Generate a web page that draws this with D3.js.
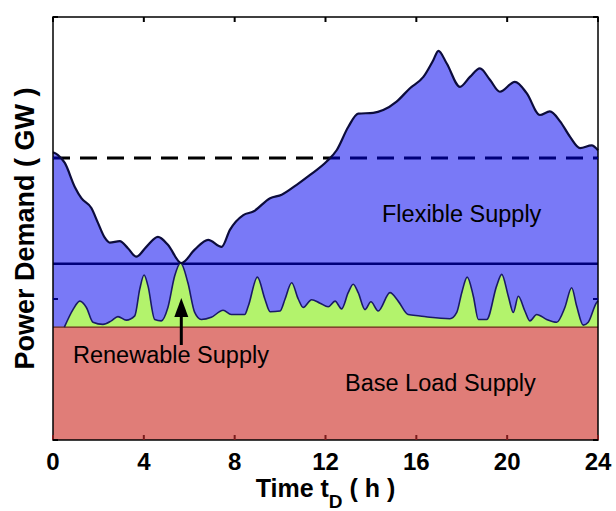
<!DOCTYPE html>
<meta charset="utf-8">
<html>
<head>
    <script src="https://d3js.org/d3.v7.min.js"></script>
    <style>
        body { margin: 0; background: white; }
        text { font-family: "Liberation Sans", Arial, sans-serif; }
    </style>
</head>
<body>
    <div id="chart"></div>
    <script>
        // demand curve (GW)
        var demandHours = [0, 0.22, 0.52, 0.96, 1.25, 1.69, 1.98, 2.28, 2.5, 2.94, 3.3, 3.67, 4.11, 4.62,
            5.06, 5.65, 6.24, 6.83, 7.43, 7.79, 8.38, 8.82, 9.56, 10.07, 10.73, 11.32, 12.05, 12.49,
            13.0, 13.44, 14.1, 14.54, 15.13, 15.72, 16.31, 16.75, 16.97, 17.34, 17.92, 18.36, 18.8,
            19.24, 19.68, 20.34, 20.86, 21.44, 21.88, 22.33, 22.77, 23.21, 23.72, 24];
        var demand = [40.8, 40.4, 39.3, 35.9, 34.3, 32.9, 30.8, 28.7, 28.0, 28.2, 27.2, 26.0, 27.4, 28.8,
            27.7, 25.1, 27.0, 28.4, 27.4, 29.8, 31.9, 32.4, 34.3, 34.8, 36.2, 37.6, 39.5, 41.1,
            44.4, 46.3, 46.4, 46.8, 48.0, 49.9, 51.5, 53.9, 55.2, 53.4, 50.1, 51.5, 52.7,
            51.1, 49.4, 50.8, 49.2, 46.1, 46.6, 45.2, 43.0, 41.4, 41.8, 41.1];

        // renewable supply on top of the base load (GW)
        var renewHours = [0.5, 0.88, 1.18, 1.47, 1.76, 2.2, 2.57, 2.86, 3.23, 3.6, 3.82, 4.01, 4.18, 4.48,
            4.77, 5.06, 5.36, 5.62, 5.94, 6.24, 6.53, 6.97, 7.49, 7.85, 8.44, 8.6, 9.0, 9.33, 9.56,
            10.0, 10.22, 10.51, 10.8, 11.02, 11.39, 11.76, 12.12, 12.42, 12.71, 13.0, 13.22, 13.44,
            13.74, 14.0, 14.32, 14.84, 15.2, 15.64, 16.16, 16.6, 17.48, 17.78, 18.0, 18.24, 18.51,
            18.73, 19.1, 19.54, 19.76, 20.05, 20.27, 20.49, 20.78, 21.0, 21.3, 21.74, 22.18, 22.54,
            22.84, 23.06, 23.35, 23.57, 23.94, 24];
        var renewable = [0, 2.5, 3.7, 2.8, 0.7, 0.4, 0.9, 1.5, 1.0, 1.6, 5.4, 7.4, 5.9, 1.1,
            0.9, 2.8, 7.3, 9.1, 6.3, 2.1, 1.1, 1.4, 2.4, 1.8, 1.8, 3.0, 7.1, 4.0, 2.2,
            2.3, 4.0, 6.3, 4.0, 2.8, 3.9, 3.4, 2.9, 3.7, 2.6, 4.9, 6.1, 4.9,
            2.5, 3.6, 2.3, 4.9, 3.7, 1.8, 1.6, 1.4, 1.2, 2.1, 4.9, 7.1, 4.4,
            1.1, 1.1, 5.9, 7.5, 4.4, 2.1, 4.4, 2.3, 0.9, 1.8, 1.1, 0.7, 2.8,
            5.6, 3.0, 0.3, 0.7, 3.5, 3.7];

        var baseLoad = 16;
        var flexibleLevel = 25;
        var peakLevel = 40;
        var xTicks = [0, 4, 8, 12, 16, 20, 24];
        var yTicks = [0, 20, 40, 60];

        var margin = { top: 17, right: 18, bottom: 71, left: 53 },
            width = 616 - margin.left - margin.right,
            height = 511 - margin.top - margin.bottom;

        var svg = d3.select("#chart").append("svg")
            .attr("width", 616)
            .attr("height", 511);
        var g = svg.append("g")
            .attr("transform", "translate(" + margin.left + "," + margin.top + ")");

        var x = d3.scaleLinear().domain([0, 24]).range([0, width]);
        var y = d3.scaleLinear().domain([0, 60]).range([height, 0]);

        var demandData = demandHours.map(function(h, i) { return { h: h, v: demand[i] }; });
        var renewData = renewHours.map(function(h, i) { return { h: h, v: renewable[i] }; });

        var demandArea = d3.area()
            .x(function(d) { return x(d.h); })
            .y0(y(0))
            .y1(function(d) { return y(d.v); })
            .curve(d3.curveMonotoneX);
        var demandLine = d3.line()
            .x(function(d) { return x(d.h); })
            .y(function(d) { return y(d.v); })
            .curve(d3.curveMonotoneX);
        var renewArea = d3.area()
            .x(function(d) { return x(d.h); })
            .y0(y(baseLoad))
            .y1(function(d) { return y(baseLoad + d.v); })
            .curve(d3.curveMonotoneX);
        var renewLine = d3.line()
            .x(function(d) { return x(d.h); })
            .y(function(d) { return y(baseLoad + d.v); })
            .curve(d3.curveMonotoneX);

        // dashed line, black over white part
        g.append("line")
            .attr("x1", 0).attr("x2", width)
            .attr("y1", y(peakLevel)).attr("y2", y(peakLevel))
            .attr("stroke", "black")
            .attr("stroke-width", 3)
            .attr("stroke-dasharray", "17,10");

        // flexible supply (blue)
        g.append("path")
            .datum(demandData)
            .attr("d", demandArea)
            .attr("fill", "#7979f7");

        // dashed line again, navy inside the blue area
        svg.append("clipPath").attr("id", "demandClip")
            .append("path")
            .datum(demandData)
            .attr("d", demandArea);
        g.append("line")
            .attr("clip-path", "url(#demandClip)")
            .attr("x1", 0).attr("x2", width)
            .attr("y1", y(peakLevel)).attr("y2", y(peakLevel))
            .attr("stroke", "#00007a")
            .attr("stroke-width", 3)
            .attr("stroke-dasharray", "17,10");

        g.append("line")
            .attr("x1", 0).attr("x2", width)
            .attr("y1", y(flexibleLevel)).attr("y2", y(flexibleLevel))
            .attr("stroke", "#00007a")
            .attr("stroke-width", 2.5);

        // renewable supply (green)
        g.append("path")
            .datum(renewData)
            .attr("d", renewArea)
            .attr("fill", "#b3f36c");

        // base load (red)
        g.append("rect")
            .attr("x", 0).attr("y", y(baseLoad))
            .attr("width", width).attr("height", y(0) - y(baseLoad))
            .attr("fill", "#e07d78");
        g.append("line")
            .attr("x1", 0).attr("x2", width)
            .attr("y1", y(baseLoad)).attr("y2", y(baseLoad))
            .attr("stroke", "#6e2a14")
            .attr("stroke-width", 1.2);

        g.append("path")
            .datum(renewData)
            .attr("d", renewLine)
            .attr("fill", "none")
            .attr("stroke", "#1a1a66")
            .attr("stroke-width", 1.6);

        g.append("path")
            .datum(demandData)
            .attr("d", demandLine)
            .attr("fill", "none")
            .attr("stroke", "#0c0c3c")
            .attr("stroke-width", 2.2);

        // frame and inward ticks
        g.append("rect")
            .attr("width", width).attr("height", height)
            .attr("fill", "none")
            .attr("stroke", "black")
            .attr("stroke-width", 1.5);

        xTicks.forEach(function(t) {
            g.append("line")
                .attr("x1", x(t)).attr("x2", x(t))
                .attr("y1", 0).attr("y2", 5)
                .attr("stroke", "black").attr("stroke-width", 2);
            g.append("line")
                .attr("x1", x(t)).attr("x2", x(t))
                .attr("y1", height).attr("y2", height - 5)
                .attr("stroke", "#7a1c1c").attr("stroke-width", 2);
            g.append("text")
                .attr("x", x(t))
                .attr("y", height + 30)
                .attr("text-anchor", "middle")
                .attr("font-size", "24px")
                .attr("font-weight", "bold")
                .text(t);
        });

        yTicks.forEach(function(t) {
            var col = (t > 0 && t < 60) ? "#00007a" : "black";
            g.append("line")
                .attr("x1", 0).attr("x2", 5)
                .attr("y1", y(t)).attr("y2", y(t))
                .attr("stroke", col).attr("stroke-width", 2);
            g.append("line")
                .attr("x1", width).attr("x2", width - 5)
                .attr("y1", y(t)).attr("y2", y(t))
                .attr("stroke", col).attr("stroke-width", 2);
        });

        // region labels
        g.append("text")
            .attr("x", 329).attr("y", 205)
            .attr("font-size", "23.5px")
            .text("Flexible Supply");
        g.append("text")
            .attr("x", 20).attr("y", 346)
            .attr("font-size", "23.5px")
            .text("Renewable Supply");
        g.append("text")
            .attr("x", 292).attr("y", 374)
            .attr("font-size", "23.5px")
            .text("Base Load Supply");

        // arrow pointing at renewable peak
        var ax = x(5.65);
        g.append("line")
            .attr("x1", ax).attr("x2", ax)
            .attr("y1", 328).attr("y2", 295)
            .attr("stroke", "black").attr("stroke-width", 3);
        g.append("path")
            .attr("d", "M" + (ax - 7) + ",300 L" + ax + ",281 L" + (ax + 7) + ",300 Z")
            .attr("fill", "black");

        // axis titles
        svg.append("text")
            .attr("transform", "rotate(-90)")
            .attr("x", -(margin.top + height / 2))
            .attr("y", 34)
            .attr("text-anchor", "middle")
            .attr("font-size", "27px")
            .attr("font-weight", "bold")
            .text("Power Demand ( GW )");

        var xl = svg.append("text")
            .attr("x", margin.left + width / 2)
            .attr("y", 497)
            .attr("text-anchor", "middle")
            .attr("font-size", "25px")
            .attr("font-weight", "bold");
        xl.append("tspan").text("Time t");
        xl.append("tspan").attr("font-size", "19px").attr("dy", 11).text("D");
        xl.append("tspan").attr("dy", -11).text(" ( h )");
    </script>
</body>
</html>
